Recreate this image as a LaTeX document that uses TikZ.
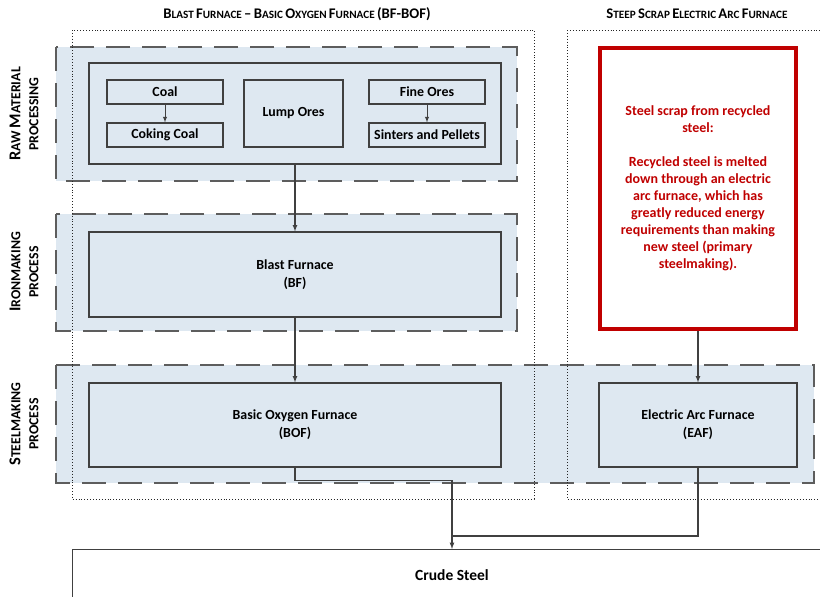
\documentclass[tikz,border=0pt]{standalone}
\usepackage{fontspec}
\setmainfont{Carlito}
\usepackage{xcolor}
\definecolor{bandblue}{HTML}{DEE8F1}
\definecolor{boxline}{HTML}{404040}
\definecolor{scrapred}{HTML}{C00000}
% fake small caps: big first letter, smaller rest
\newcommand{\scT}[2]{{\fontsize{14.7}{17}\selectfont #1}{\fontsize{11.2}{13}\selectfont #2}}
\newcommand{\scL}[2]{{\fontsize{16.5}{18}\selectfont #1}{\fontsize{13.8}{18}\selectfont #2}}
\tikzset{
  band/.style={fill=bandblue, draw=boxline!85, line width=1.4pt, dash pattern=on 24pt off 12pt},
  group/.style={draw=black!85, line width=0.9pt, dotted},
  stage/.style={draw=boxline, line width=1.2pt, fill=bandblue, align=center, font=\bfseries\fontsize{13.9}{18}\selectfont, inner sep=0pt},
  scrapbox/.style={draw=scrapred, line width=4.5pt, fill=white, align=center, text=scrapred, font=\bfseries\fontsize{14}{17}\selectfont, inner sep=0pt},
  flow/.style={draw=boxline, line width=1.2pt, -latex},
  sideLabel/.style={rotate=90, align=center, font=\bfseries\fontsize{13.8}{18}\selectfont, inner sep=0pt}
}
\begin{document}
\begin{tikzpicture}[x=1pt, y=-1pt]
\useasboundingbox (0,0) rectangle (820,597);
%Bands
\draw[band] (56,47) rectangle (517,181);
\draw[band] (56,214) rectangle (517,331);
\draw[band] (56,365) rectangle (814,483);
%Groups
\draw[group] (72,30) rectangle (534,499);
\draw[group] (567,30) -- (567,499) -- (830,499);
\draw[group] (567,30) -- (830,30);
\node[font=\bfseries, inner sep=0pt] (bfbofTitle) at (297,14) {\scT{B}{LAST} \scT{F}{URNACE} \scT{–}{} \scT{B}{ASIC} \scT{O}{XYGEN} \scT{F}{URNACE} \scT{(BF-BOF)}{}};
\node[font=\bfseries, inner sep=0pt] (eafTitle) at (697,14) {\scT{S}{TEEP} \scT{S}{CRAP} \scT{E}{LECTRIC} \scT{A}{RC} \scT{F}{URNACE}};
%Side labels
\node[sideLabel] (rawLabel) at (24,114) {\scL{R}{AW} \scL{M}{ATERIAL}\\\scL{}{PROCESSING}};
\node[sideLabel] (ironLabel) at (24,272) {\scL{I}{RONMAKING}\\\scL{}{PROCESS}};
\node[sideLabel] (steelLabel) at (24,424) {\scL{S}{TEELMAKING}\\\scL{}{PROCESS}};
%Raw material boxes
\node[stage, minimum width=412, minimum height=101] (raw) at (295,113.5) {};
\node[stage, minimum width=116, minimum height=24] (coal) at (165,92) {Coal};
\node[stage, minimum width=116, minimum height=24] (coking) at (165,135) {Coking Coal};
\node[stage, minimum width=99, minimum height=67] (lump) at (293.5,113.5) {Lump Ores};
\node[stage, minimum width=116, minimum height=24] (fine) at (427,92) {Fine Ores};
\node[stage, minimum width=116, minimum height=24] (sinter) at (427,135) {Sinters and Pellets};
%Process boxes
\node[stage, minimum width=412, minimum height=85] (bf) at (295,274.5) {Blast Furnace\\(BF)};
\node[stage, minimum width=412, minimum height=84] (bof) at (295,425) {Basic Oxygen Furnace\\(BOF)};
\node[stage, minimum width=198, minimum height=84] (eaf) at (698,425) {Electric Arc Furnace\\(EAF)};
\node[scrapbox, minimum width=196, minimum height=281] (scrap) at (698,188.5) {Steel scrap from recycled\\steel:\\[17pt]Recycled steel is melted\\down through an electric\\arc furnace, which has\\greatly reduced energy\\requirements than making\\new steel (primary\\steelmaking).};
\node[draw=boxline, line width=1.4pt, fill=white, minimum width=780, minimum height=80, anchor=north west] (crude) at (72,549) {};
\node[font=\bfseries\fontsize{15.5}{18}\selectfont, inner sep=0pt] (crudeText) at (452,575) {Crude Steel};
\coordinate (merge) at (452,536);
%Connectors
\draw[flow, line width=0.9pt] (coal) -- (coking);
\draw[flow, line width=0.9pt] (fine) -- (sinter);
\draw[flow] (raw) -- (bf);
\draw[flow] (bf) -- (bof);
\draw[flow] (scrap.south) -- (eaf);
\draw[flow] (bof.south) -- ++(0,13) -| (crude.north west -| merge);
\draw[draw=boxline, line width=1.2pt] (eaf.south) |- (merge);
\end{tikzpicture}
\end{document}
